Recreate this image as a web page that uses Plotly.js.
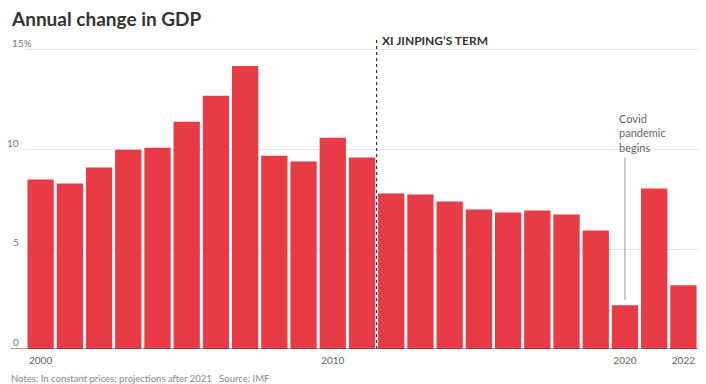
<!DOCTYPE html>
<html><head><meta charset="utf-8">
<script src="https://cdn.plot.ly/plotly-3.0.1.min.js"></script>
<style>html,body{margin:0;padding:0;background:#fff}#chart{width:706px;height:384px}</style>
</head><body><div id="chart"></div>
<script>
const years = [2000,2001,2002,2003,2004,2005,2006,2007,2008,2009,2010,2011,2012,2013,2014,2015,2016,2017,2018,2019,2020,2021,2022];
const gdpChange = [8.5,8.3,9.1,10.0,10.1,11.4,12.7,14.2,9.7,9.4,10.6,9.6,7.8,7.75,7.4,7.0,6.85,6.95,6.75,5.95,2.2,8.05,3.2];
const xTickVals = [2000,2010,2020,2022];
const xTickText = ['2000','2010','2020','2022'];
const yTickVals = [0,5,10,15];
const yTickText = ['0','5','10','15%'];
const termStart = 2011.5;
const covidYear = 2020;

const font = 'Lato, "Open Sans", sans-serif';
const yAnn = yTickVals.map((v,i)=>({
  xref:'paper', yref:'y', x: i===3 ? -0.0236 : -0.0075, y:v,
  xanchor: i===3 ? 'left' : 'right', yanchor:'bottom', yshift:-1,
  text: yTickText[i], showarrow:false,
  font:{family:font,size:10,color:'#777'}
}));

const layout = {
  width:706, height:384,
  margin:{l:26,r:8,t:40,b:35},
  paper_bgcolor:'#fff', plot_bgcolor:'#fff',
  bargap:0.1,
  showlegend:false,
  xaxis:{range:[1999.5,2022.5], tickvals:xTickVals, ticktext:xTickText, showgrid:false, zeroline:false,
    showline:false, ticks:'', tickfont:{family:font,size:10,color:'#666'}, ticklabelstandoff:4, fixedrange:true},
  yaxis:{range:[0,15.5], tickvals:yTickVals, showticklabels:false, showgrid:true, gridcolor:'#e6e6e6', gridwidth:1,
    zeroline:false, showline:false, ticks:'', fixedrange:true},
  shapes:[
    {type:'line', xref:'paper', yref:'y', x0:-0.023, x1:1, y0:0, y1:0, line:{color:'#444',width:1}},
    {type:'line', xref:'x', yref:'paper', x0:termStart, x1:termStart, y0:0, y1:1.01, line:{color:'#333',width:1.2,dash:'dot'}},
    {type:'line', xref:'x', yref:'y', x0:covidYear, x1:covidYear, y0:2.45, y1:9.6, line:{color:'#999',width:1}}
  ],
  annotations: yAnn.concat([
    {xref:'paper', yref:'paper', x:-0.026, y:1.071, xanchor:'left', yanchor:'middle', showarrow:false,
     text:'<b>Annual change in GDP</b>', font:{family:font,size:19,color:'#333'}},
    {xref:'x', yref:'paper', x:termStart, y:1.0, xanchor:'left', yanchor:'middle', xshift:3, showarrow:false,
     text:'<b>XI JINPING’S TERM</b>', font:{family:font,size:12,color:'#333'}},
    {xref:'x', yref:'y', x:covidYear, y:9.7, xanchor:'left', yanchor:'bottom', xshift:-8, showarrow:false, align:'left',
     text:'Covid<br>pandemic<br>begins', font:{family:font,size:11,color:'#666'}},
    {xref:'paper', yref:'paper', x:-0.026, y:-0.094, xanchor:'left', yanchor:'middle', showarrow:false,
     text:'Notes: In constant prices; projections after 2021   Source: IMF', font:{family:font,size:9.5,color:'#888'}}
  ])
};

Plotly.newPlot('chart', [{
  type:'bar', x:years, y:gdpChange, marker:{color:'#e83b46', line:{width:0}}, hoverinfo:'x+y'
}], layout, {displayModeBar:false, staticPlot:true});
</script></body></html>
